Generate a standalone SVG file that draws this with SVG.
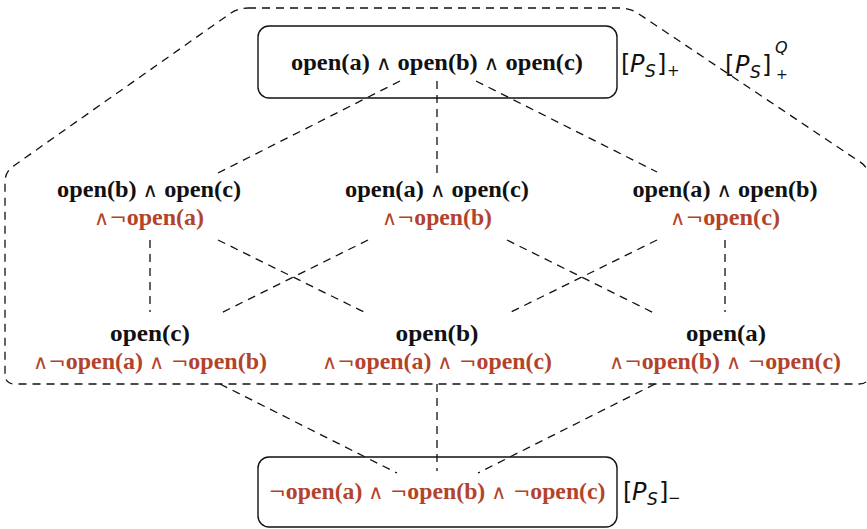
<svg xmlns="http://www.w3.org/2000/svg" width="867" height="529" viewBox="0 0 867 529">
<style>
.t{font-family:"Liberation Serif","DejaVu Serif",serif;font-weight:bold;font-size:23px;text-anchor:middle;fill:#111}
.r{fill:#b3432b}
.op{font-family:"DejaVu Sans",sans-serif;font-weight:normal;font-size:20px}
.lbl{font-family:"DejaVu Sans","Liberation Sans",sans-serif;font-size:24px;fill:#111}
.it{font-style:italic}
.box{fill:none;stroke:#111;stroke-width:1.4}
.d{fill:none;stroke:#111;stroke-width:1.3;stroke-dasharray:8 6}
</style>
<rect width="867" height="529" fill="#fff"/>
<g id="region">
<path class="d" d="M248,8 L620,8 Q630,8 638.3,13.6 L860.7,162.4 Q869,168 869,178 L869,374 Q869,384 859,384 L15,384 Q5,384 5,374 L5,182 Q5,172 13.2,166.2 L229.8,13.8 Q238,8 248,8 Z"/>
<text class="lbl" y="73"><tspan x="725">[</tspan><tspan x="735" class="it">P</tspan><tspan x="750" y="78" class="it" font-size="17">S</tspan><tspan x="762" y="73">]</tspan><tspan x="775" y="53" class="it" font-size="16">Q</tspan><tspan x="776" y="79" font-size="14">+</tspan></text>
</g>
<g id="connectors">
<line class="d" x1="400" y1="81" x2="218" y2="173"/>
<line class="d" x1="437" y1="81" x2="437" y2="175"/>
<line class="d" x1="476" y1="81" x2="657" y2="172"/>
<line class="d" x1="150" y1="240" x2="150" y2="312"/>
<line class="d" x1="218" y1="240" x2="368" y2="314"/>
<line class="d" x1="368" y1="240" x2="219" y2="314"/>
<line class="d" x1="507" y1="240" x2="656" y2="314"/>
<line class="d" x1="657" y1="240" x2="507" y2="314"/>
<line class="d" x1="725" y1="240" x2="725" y2="312"/>
<line class="d" x1="220" y1="384" x2="397" y2="473"/>
<line class="d" x1="437" y1="384" x2="437" y2="471"/>
<line class="d" x1="655" y1="384" x2="478" y2="473"/>
</g>
<g id="top">
<rect class="box" x="258" y="26" width="359" height="72" rx="11" fill="#fff"/>
<text class="t" x="437" y="70" textLength="292" lengthAdjust="spacingAndGlyphs">open(a) <tspan class="op">∧</tspan> open(b) <tspan class="op">∧</tspan> open(c)</text>
<text class="lbl" y="72"><tspan x="621">[</tspan><tspan x="630" class="it">P</tspan><tspan x="645" y="77" class="it" font-size="17">S</tspan><tspan x="657" y="72">]</tspan><tspan x="667" y="76" font-size="15">+</tspan></text>
</g>
<g id="mid-left">
<text class="t" x="149" y="197" textLength="184" lengthAdjust="spacingAndGlyphs">open(b) <tspan class="op">∧</tspan> open(c)</text>
<text class="t r" x="149" y="225" textLength="110" lengthAdjust="spacingAndGlyphs"><tspan class="op">∧¬</tspan>open(a)</text>
</g>
<g id="mid-center">
<text class="t" x="437" y="197" textLength="184" lengthAdjust="spacingAndGlyphs">open(a) <tspan class="op">∧</tspan> open(c)</text>
<text class="t r" x="437" y="225" textLength="110" lengthAdjust="spacingAndGlyphs"><tspan class="op">∧¬</tspan>open(b)</text>
</g>
<g id="mid-right">
<text class="t" x="725" y="197" textLength="185" lengthAdjust="spacingAndGlyphs">open(a) <tspan class="op">∧</tspan> open(b)</text>
<text class="t r" x="725" y="225" textLength="110" lengthAdjust="spacingAndGlyphs"><tspan class="op">∧¬</tspan>open(c)</text>
</g>
<g id="low-left">
<text class="t" x="150" y="341" textLength="80" lengthAdjust="spacingAndGlyphs">open(c)</text>
<text class="t r" x="150" y="369" textLength="234" lengthAdjust="spacingAndGlyphs"><tspan class="op">∧¬</tspan>open(a) <tspan class="op">∧ ¬</tspan>open(b)</text>
</g>
<g id="low-center">
<text class="t" x="437" y="341" textLength="83" lengthAdjust="spacingAndGlyphs">open(b)</text>
<text class="t r" x="437" y="369" textLength="230" lengthAdjust="spacingAndGlyphs"><tspan class="op">∧¬</tspan>open(a) <tspan class="op">∧ ¬</tspan>open(c)</text>
</g>
<g id="low-right">
<text class="t" x="726" y="341" textLength="80" lengthAdjust="spacingAndGlyphs">open(a)</text>
<text class="t r" x="725" y="369" textLength="232" lengthAdjust="spacingAndGlyphs"><tspan class="op">∧¬</tspan>open(b) <tspan class="op">∧ ¬</tspan>open(c)</text>
</g>
<g id="bottom">
<rect class="box" x="258" y="457" width="359" height="70" rx="11" fill="#fff"/>
<text class="t r" x="437" y="499" textLength="337" lengthAdjust="spacingAndGlyphs"><tspan class="op">¬</tspan>open(a) <tspan class="op">∧ ¬</tspan>open(b) <tspan class="op">∧ ¬</tspan>open(c)</text>
<text class="lbl" y="500"><tspan x="623">[</tspan><tspan x="632" class="it">P</tspan><tspan x="647" y="505" class="it" font-size="17">S</tspan><tspan x="659" y="500">]</tspan><tspan x="668" y="503" font-size="15">−</tspan></text>
</g>
</svg>
